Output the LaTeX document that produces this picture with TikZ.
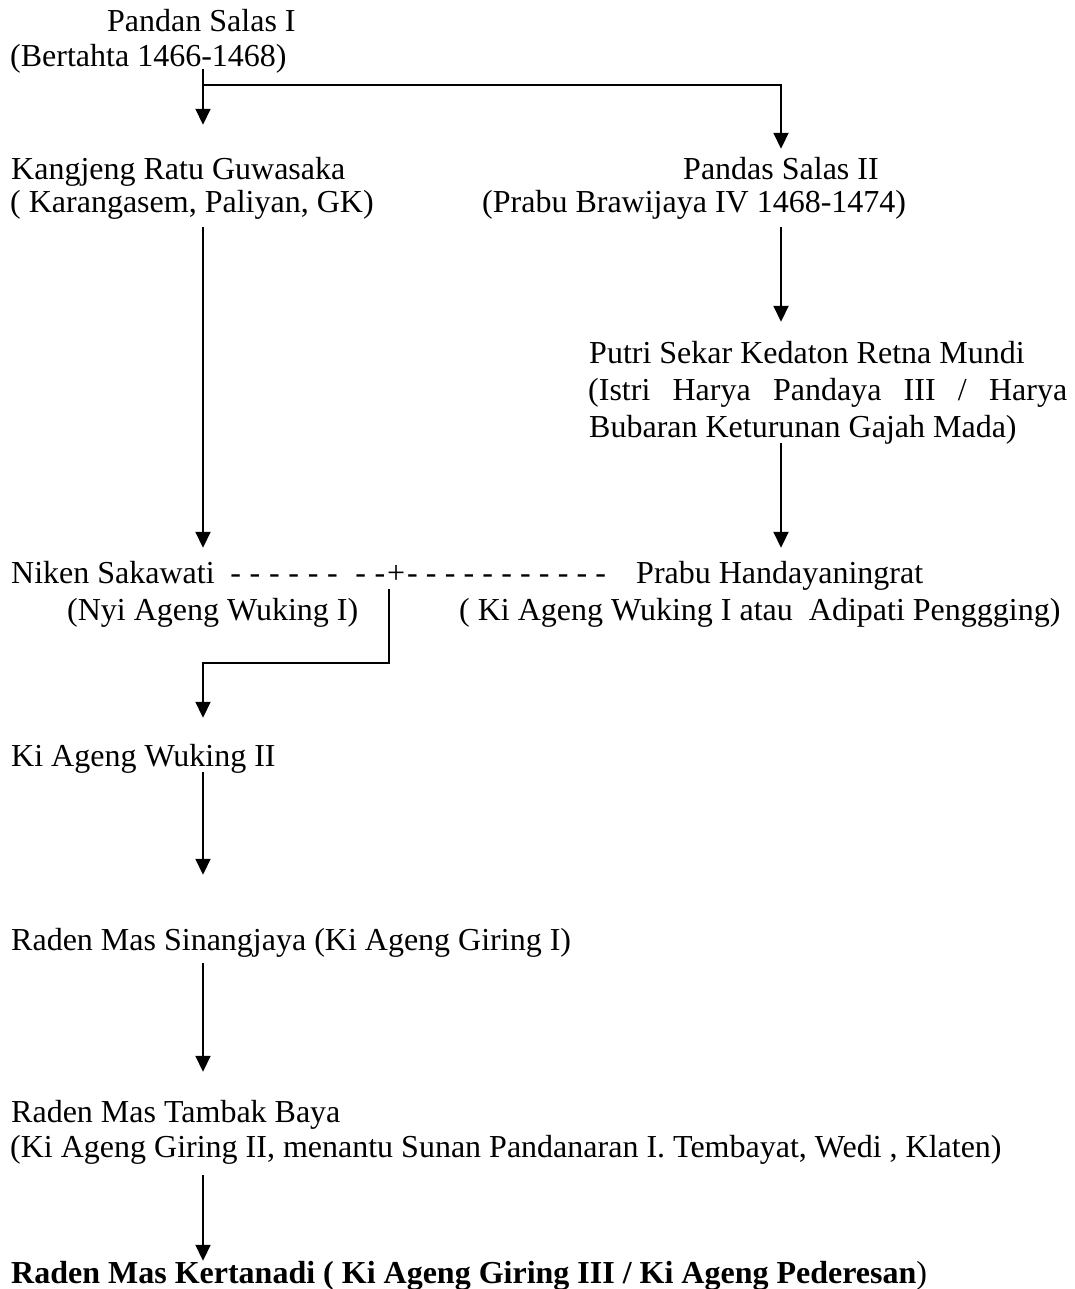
\documentclass[tikz,border=0pt]{standalone}
\usepackage{fontspec}
\setmainfont{Liberation Serif}
\usetikzlibrary{arrows.meta,calc}

\begin{document}
\begin{tikzpicture}[x=1pt,y=-1pt,font=\fontsize{32}{37}\selectfont,
  txt/.style={anchor=base west,inner sep=0pt,text height=22pt,text depth=0pt},
  ln/.style={line width=1.8pt},
  arr/.style={line width=1.8pt,-{Triangle[length=16pt,width=15pt]}}]
\useasboundingbox (0,0) rectangle (1075,1289);
\coordinate (tL) at (203,0);\coordinate (tR) at (781,0);

\node[txt] (salasI) at (107,32) {Pandan Salas I};
\node[txt] (salasIb) at (10,67) {(Bertahta 1466-1468)};

\node[txt] (guwasaka) at (11,180) {Kangjeng Ratu Guwasaka};
\node[txt] (guwasakab) at (10,213) {( Karangasem, Paliyan, GK)};
\node[txt] (salasII) at (683,180) {Pandas Salas II};
\node[txt] (salasIIb) at (482,213) {(Prabu Brawijaya IV 1468-1474)};

\node[txt] (mundi) at (589,363) {Putri Sekar Kedaton Retna Mundi};
\node[txt] (mundib) at (588,400) {\hbox to 479pt{(Istri\hfill Harya\hfill Pandaya\hfill III\hfill /\hfill Harya}};
\node[txt] (mundic) at (589,437) {Bubaran Keturunan Gajah Mada)};

%the marriage line
\node[txt] (niken) at (11,583) {Niken Sakawati};
\node[txt] (plus) at (387,583) {+};
\node[txt,anchor=base east] (dashl) at ([xshift=-1.5pt]plus.base west) {\hbox to 155pt{-\hfill-\hfill-\hfill-\hfill-\hfill-\hfill\hfill-\hfill-}};
\node[txt] (dashr) at ([xshift=1.5pt]plus.base east) {\hbox to 199pt{-\hfill-\hfill-\hfill-\hfill-\hfill-\hfill-\hfill-\hfill-\hfill-\hfill-}};
\node[txt] (prabu) at (636,583) {Prabu Handayaningrat};
\node[txt] (nyi) at (67,620) {(Nyi Ageng Wuking I)};
\node[txt] (pengging) at (459,620) {( Ki Ageng Wuking I atau\ \ Adipati Penggging)};

\node[txt] (wukingII) at (11,766) {Ki Ageng Wuking II};
\node[txt] (sinang) at (11,950) {Raden Mas Sinangjaya (Ki Ageng Giring I)};
\node[txt] (tambak) at (11,1122) {Raden Mas Tambak Baya};
\node[txt] (tambakb) at (10,1157) {(Ki Ageng Giring II, menantu Sunan Pandanaran I. Tembayat, Wedi , Klaten)};
\node[txt] (kerta) at (11,1283) {\bfseries Raden Mas Kertanadi ( Ki Ageng Giring III / Ki Ageng Pederesan\mdseries)};

\coordinate (split) at ($(salasIb.south -| tL)+(0,18)$);
\draw[arr,shorten <=2pt,shorten >=33pt] (salasIb.south -| tL) to (guwasaka.north -| tL);
\draw[arr,shorten >=9pt] (split) -| (salasII.north -| tR);

\draw[arr,shorten <=14pt,shorten >=13pt] (guwasakab.south -| tL) to (niken.north -| tL);
\draw[arr,shorten <=14pt,shorten >=19pt] (salasIIb.south -| tR) to (mundi.north -| tR);
\draw[arr,shorten <=6pt,shorten >=13pt] (mundic.south -| tR) to (prabu.north -| tR);

\draw[arr,shorten >=26pt] ($(plus.south)+(-7,6)$) -- ++(0,74) -| (wukingII.north -| tL);

\draw[arr,shorten <=6pt,shorten >=53pt] (wukingII.south -| tL) to (sinang.north -| tL);
\draw[arr,shorten <=13pt,shorten >=28pt] (sinang.south -| tL) to (tambak.north -| tL);
\draw[arr,shorten <=18pt] (tambakb.south -| tL) to (kerta.north -| tL);
\end{tikzpicture}
\end{document}
